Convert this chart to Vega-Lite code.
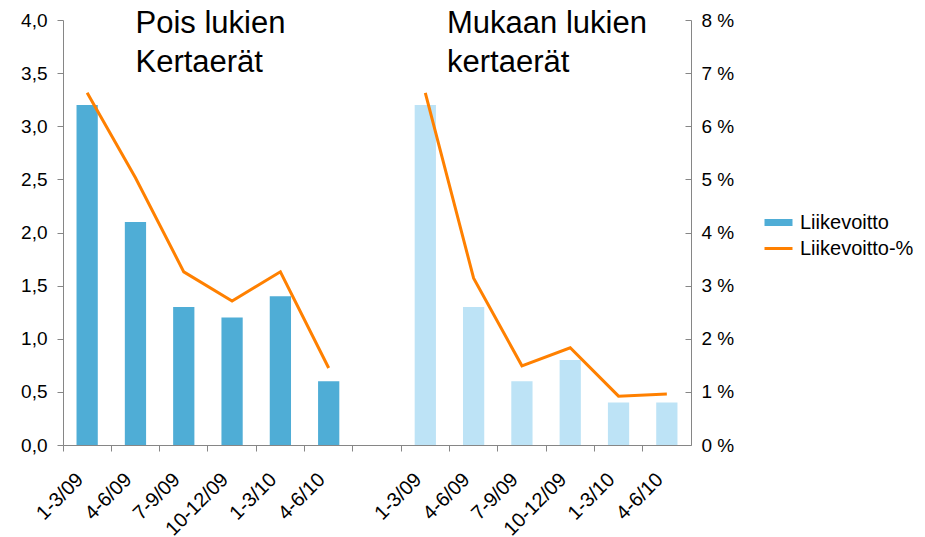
{
  "$schema": "https://vega.github.io/schema/vega-lite/v6.json",
  "width": 628,
  "height": 425,
  "autosize": {"type": "none"},
  "padding": {"left": 63, "top": 20, "right": 234, "bottom": 92},
  "config": {
    "font": "Liberation Sans",
    "view": {"stroke": null},
    "axis": {
      "grid": false,
      "labelFont": "Liberation Sans",
      "labelFontSize": 19,
      "labelColor": "#000000",
      "domainColor": "#868686",
      "tickColor": "#868686",
      "tickSize": 6,
      "title": null
    }
  },
  "data": {
    "values": [
      {"x": "a1-3/09", "ryhma": "pois", "sarja": "Liikevoitto", "liikevoitto": 3.2, "pct": 6.63},
      {"x": "a4-6/09", "ryhma": "pois", "sarja": "Liikevoitto", "liikevoitto": 2.1, "pct": 5.03},
      {"x": "a7-9/09", "ryhma": "pois", "sarja": "Liikevoitto", "liikevoitto": 1.3, "pct": 3.26},
      {"x": "a10-12/09", "ryhma": "pois", "sarja": "Liikevoitto", "liikevoitto": 1.2, "pct": 2.71},
      {"x": "a1-3/10", "ryhma": "pois", "sarja": "Liikevoitto", "liikevoitto": 1.4, "pct": 3.26},
      {"x": "a4-6/10", "ryhma": "pois", "sarja": "Liikevoitto", "liikevoitto": 0.6, "pct": 1.45},
      {"x": "b1-3/09", "ryhma": "mukaan", "sarja": "mukaan", "liikevoitto": 3.2, "pct": 6.63},
      {"x": "b4-6/09", "ryhma": "mukaan", "sarja": "mukaan", "liikevoitto": 1.3, "pct": 3.14},
      {"x": "b7-9/09", "ryhma": "mukaan", "sarja": "mukaan", "liikevoitto": 0.6, "pct": 1.49},
      {"x": "b10-12/09", "ryhma": "mukaan", "sarja": "mukaan", "liikevoitto": 0.8, "pct": 1.83},
      {"x": "b1-3/10", "ryhma": "mukaan", "sarja": "mukaan", "liikevoitto": 0.4, "pct": 0.92},
      {"x": "b4-6/10", "ryhma": "mukaan", "sarja": "mukaan", "liikevoitto": 0.4, "pct": 0.96}
    ]
  },
  "encoding": {
    "x": {
      "field": "x",
      "type": "nominal",
      "sort": null,
      "scale": {
        "domain": ["a1-3/09", "a4-6/09", "a7-9/09", "a10-12/09", "a1-3/10", "a4-6/10", "gap", "b1-3/09", "b4-6/09", "b7-9/09", "b10-12/09", "b1-3/10", "b4-6/10"],
        "paddingInner": 0,
        "paddingOuter": 0
      },
      "axis": {
        "bandPosition": 0,
        "labelAngle": -45,
        "labelOffset": -14,
        "labelPadding": 18,
        "labelFontSize": 20,
        "labelExpr": "datum.value == 'gap' ? '' : slice(datum.value, 1)"
      }
    }
  },
  "layer": [
    {
      "layer": [
        {
          "mark": {"type": "bar", "width": {"band": 0.44}},
          "encoding": {
            "y": {
              "field": "liikevoitto",
              "type": "quantitative",
              "scale": {"domain": [0, 4], "nice": false},
              "axis": {
                "values": [0, 0.5, 1, 1.5, 2, 2.5, 3, 3.5, 4],
                "labelPadding": 10,
                "labelExpr": "replace(format(datum.value, '.1f'), '.', ',')"
              }
            },
            "color": {
              "field": "sarja",
              "type": "nominal",
              "scale": {
                "domain": ["Liikevoitto", "Liikevoitto-%", "mukaan"],
                "range": ["#4FADD6", "#FF8000", "#BDE3F6"]
              },
              "legend": {
                "title": null,
                "values": ["Liikevoitto", "Liikevoitto-%"],
                "orient": "none",
                "legendX": 700,
                "legendY": 187,
                "labelFont": "Liberation Sans",
                "labelFontSize": 20,
                "labelColor": "#000000",
                "symbolSize": 784,
                "rowPadding": 0,
                "labelOffset": 6,
                "encode": {
                  "symbols": {
                    "update": {
                      "shape": {"signal": "datum.value == 'Liikevoitto-%' ? 'stroke' : 'M-1,-0.25H1V0.25H-1Z'"},
                      "fill": {"signal": "datum.value == 'Liikevoitto-%' ? 'transparent' : '#4FADD6'"},
                      "stroke": {"signal": "datum.value == 'Liikevoitto-%' ? '#FF8000' : 'transparent'"},
                      "strokeWidth": {"value": 3},
                      "opacity": {"value": 1}
                    }
                  }
                }
              }
            }
          }
        },
        {
          "data": {"values": [{"x": "a4-6/09", "y": 3.88, "t": ["Pois lukien", "Kertaerät"]}]},
          "mark": {"type": "text", "align": "left", "baseline": "alphabetic", "fontSize": 31, "lineHeight": 39, "font": "Liberation Sans", "color": "#000000"},
          "encoding": {
            "x": {"field": "x", "type": "nominal", "bandPosition": 0.5},
            "y": {"field": "y", "type": "quantitative"},
            "text": {"field": "t"}
          }
        },
        {
          "data": {"values": [{"x": "b1-3/09", "y": 3.88, "t": ["Mukaan lukien", "kertaerät"]}]},
          "mark": {"type": "text", "align": "left", "baseline": "alphabetic", "fontSize": 31, "lineHeight": 39, "font": "Liberation Sans", "color": "#000000"},
          "encoding": {
            "x": {"field": "x", "type": "nominal", "bandPosition": 0.95},
            "y": {"field": "y", "type": "quantitative"},
            "text": {"field": "t"}
          }
        }
      ]
    },
    {
      "mark": {"type": "line", "strokeWidth": 3, "color": "#FF8000"},
      "encoding": {
        "y": {
          "field": "pct",
          "type": "quantitative",
          "scale": {"domain": [0, 8], "nice": false},
          "axis": {
            "orient": "right",
            "values": [0, 1, 2, 3, 4, 5, 6, 7, 8],
            "tickSize": -6,
            "labelPadding": 16,
            "labelExpr": "datum.value + ' %'"
          }
        },
        "detail": {"field": "ryhma"}
      }
    }
  ],
  "resolve": {"scale": {"y": "independent"}}
}
